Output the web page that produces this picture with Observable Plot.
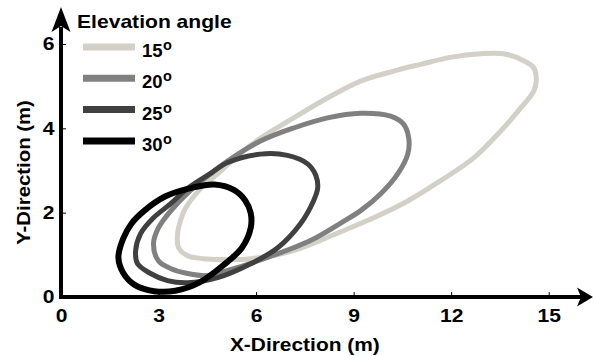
<!DOCTYPE html>
<html><head><meta charset="utf-8">
<script src="https://cdn.jsdelivr.net/npm/d3@7"></script>
<script src="https://cdn.jsdelivr.net/npm/@observablehq/plot@0.6"></script>
<style>
html,body{margin:0;padding:0;background:#fff;}
svg text{font-family:'Liberation Sans',Arial,sans-serif;font-weight:bold;}
</style></head><body><div id="chart"></div>
<script>
// ---- data ----
const angles = ["15", "20", "25", "30"];
const xTicks = [0, 3, 6, 9, 12, 15];
const yTicks = [0, 2, 4, 6];
const xLabel = "X-Direction (m)";
const yLabel = "Y-Direction (m)";
const legendTitle = "Elevation angle";

const x15 = [3.57,3.66,3.8,4.3,4.8,5.5,6.12,7.14,8.18,9.2,10.22,11.05,12.0,12.89,13.6,14.2,14.53,14.6,14.52,14.12,13.51,12.68,11.66,10.65,9.6,8.5,7.14,5.82,4.89,4.37,3.88,3.6];
const y15 = [1.51,1.82,2.1,2.6,2.93,3.42,3.78,4.26,4.73,5.13,5.37,5.53,5.7,5.78,5.78,5.62,5.44,5.13,4.89,4.49,3.95,3.31,2.77,2.29,1.89,1.53,1.11,0.92,0.9,0.92,0.99,1.18];

const x20 = [2.83,2.98,3.3,3.95,5.12,6.12,7.14,8.18,9.2,10.12,10.52,10.68,10.65,10.34,9.82,9.2,8.6,7.66,6.34,5.11,4.49,3.88,3.35,2.98];
const y20 = [1.28,1.65,2.0,2.53,3.24,3.71,4.02,4.26,4.37,4.3,4.11,3.78,3.4,2.93,2.46,2.06,1.77,1.35,0.95,0.64,0.52,0.57,0.69,0.87];

const x25 = [2.28,2.43,2.83,3.35,3.9,4.6,5.11,6.12,6.95,7.57,7.82,7.88,7.75,7.35,6.65,5.82,4.8,3.88,3.26,2.74,2.34];
const y25 = [1.11,1.51,1.89,2.22,2.6,2.95,3.2,3.4,3.37,3.17,2.9,2.6,2.29,1.75,1.18,0.8,0.47,0.35,0.4,0.57,0.8];

const x30 = [1.75,1.9,2.15,2.55,3.2,4.0,4.7,5.3,5.65,5.82,5.82,5.55,5.0,4.25,3.5,2.85,2.25,1.9];
const y30 = [0.95,1.4,1.75,2.06,2.4,2.6,2.68,2.55,2.3,2.0,1.65,1.18,0.78,0.36,0.16,0.15,0.3,0.58];

// ---- styles ----
const colors = ["#d3d0c8", "#808080", "#404040", "#000000"];
const widths = [5, 5, 5, 6];
const seriesX = [x15, x20, x25, x30];
const seriesY = [y15, y20, y25, y30];

const W = 594, H = 356;
const mL = 61, mR = 45.3, mT = 44, mB = 59;
const FS = 18.5;

const lineMarks = angles.map((a, i) => {
  const data = seriesX[i].map((x, j) => ({x, y: seriesY[i][j], angle: a}));
  return Plot.line(data, {x: "x", y: "y", stroke: colors[i], strokeWidth: widths[i],
    curve: "catmull-rom-closed", strokeLinejoin: "round", strokeLinecap: "round"});
});

const frameW = W - mL - mR, frameH = H - mT - mB;

const plot = Plot.plot({
  width: W, height: H,
  marginLeft: mL, marginRight: mR, marginTop: mT, marginBottom: mB,
  style: {background: "white", color: "black", fontFamily: "'Liberation Sans', Arial, sans-serif", fontSize: FS + "px", fontWeight: "bold", overflow: "visible"},
  x: {domain: [0, 15]},
  y: {domain: [0, 6]},
  marks: [
    ...lineMarks,
    Plot.tickX(xTicks, {x: d => d, stroke: "black", strokeWidth: 1, insetTop: frameH - 5}),
    Plot.tickY(yTicks, {y: d => d, stroke: "black", strokeWidth: 1, insetRight: frameW - 5}),
    Plot.axisX(xTicks, {tickSize: 0, tickPadding: 11, fontSize: FS, fontWeight: "bold", fill: "black", label: null}),
    Plot.axisY(yTicks, {tickSize: 0, tickPadding: 7, fontSize: FS, fontWeight: "bold", fill: "black", label: null})
  ]
});
document.getElementById("chart").appendChild(plot);

const svg = d3.select(plot);
const sx = plot.scale("x"), sy = plot.scale("y");
const ox = sx.apply(0), oy = sy.apply(0);

// stretch axis tick labels slightly (wide bold face of the original)
svg.selectAll("g[aria-label$='tick label'] text").each(function() {
  const L = this.getComputedTextLength();
  this.setAttribute("textLength", L * 1.14);
  this.setAttribute("lengthAdjust", "spacingAndGlyphs");
});

const g = svg.append("g").attr("text-anchor", "start");
// axes with arrowheads
g.append("line").attr("x1", ox).attr("x2", ox).attr("y1", oy + 2).attr("y2", 27)
  .attr("stroke", "black").attr("stroke-width", 4);
g.append("path").attr("d", `M${ox},7 L${ox + 9.5},32 L${ox},26 L${ox - 9.5},32 Z`).attr("fill", "black");
g.append("line").attr("x1", ox - 2).attr("x2", W - 13).attr("y1", oy).attr("y2", oy)
  .attr("stroke", "black").attr("stroke-width", 4);
g.append("path").attr("d", `M${W - 1},${oy} L${W - 17},${oy - 9.5} L${W - 13},${oy} L${W - 17},${oy + 9.5} Z`).attr("fill", "black");

function stretch(sel, k) {
  const n = sel.node();
  n.setAttribute("textLength", n.getComputedTextLength() * k);
  n.setAttribute("lengthAdjust", "spacingAndGlyphs");
}

// axis titles
const xt = g.append("text").attr("x", (sx.apply(0) + sx.apply(15)) / 2).attr("y", 351)
  .attr("text-anchor", "middle").attr("font-size", FS).attr("fill", "black").text(xLabel);
stretch(xt, 1.13);
const yt = g.append("text").attr("transform", `translate(29.5,${(sy.apply(0) + sy.apply(6)) / 2 + 2}) rotate(-90)`)
  .attr("text-anchor", "middle").attr("font-size", FS).attr("fill", "black").text(yLabel);
stretch(yt, 1.1);

// legend
const lt = g.append("text").attr("x", 77).attr("y", 28).attr("text-anchor", "start")
  .attr("font-size", FS).attr("fill", "black").text(legendTitle);
stretch(lt, 1.14);
angles.forEach((a, i) => {
  const cy = 47 + i * 31.3;
  g.append("line").attr("x1", 83).attr("x2", 135).attr("y1", cy).attr("y2", cy)
    .attr("stroke", colors[i]).attr("stroke-width", 7);
  const t = g.append("text").attr("x", 142).attr("y", cy + 10).attr("text-anchor", "start")
    .attr("font-size", FS).attr("fill", "black");
  t.append("tspan").text(a);
  t.append("tspan").attr("font-size", 14.5).attr("dy", -7).attr("dx", 0.5).text("o");
});
</script></body></html>
